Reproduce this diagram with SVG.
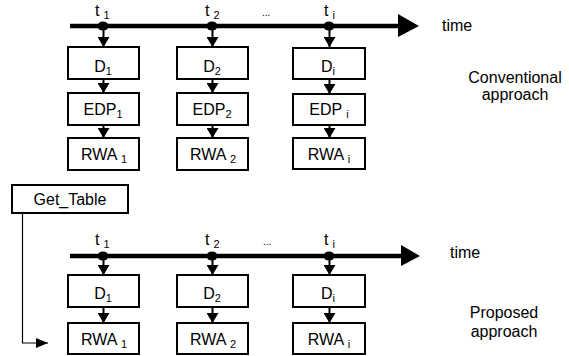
<svg xmlns="http://www.w3.org/2000/svg" width="569" height="356" viewBox="0 0 569 356">
<defs>
<marker id="ah" viewBox="0 0 10 12" refX="10" refY="6" markerWidth="10" markerHeight="12" markerUnits="userSpaceOnUse" orient="auto"><path d="M0,0 L10,6 L0,12 Z" fill="#000"/></marker>
<marker id="ahs" viewBox="0 0 12 10" refX="12" refY="5" markerWidth="12" markerHeight="10" markerUnits="userSpaceOnUse" orient="auto"><path d="M0,0 L12,5 L0,10 Z" fill="#000"/></marker>
</defs>
<style>
text{font-family:"Liberation Sans",Arial,sans-serif;font-size:16px;fill:#000}
.box{fill:#fff;stroke:#000;stroke-width:2}
.c{text-anchor:middle}
.sub{font-size:11px}
.axis{stroke:#000;stroke-width:4.5;fill:none}
.v{stroke:#000;stroke-width:2;fill:none;marker-end:url(#ah)}
.thin{stroke:#000;stroke-width:1.2;fill:none;marker-end:url(#ahs)}
</style>
<rect width="569" height="356" fill="#fff"/>
<g id="connectors">
<line class="axis" x1="70" y1="26" x2="400" y2="26"/>
<polygon points="398,14 419,26 398,37" fill="#000"/>
<line class="axis" x1="70" y1="256" x2="404" y2="256"/>
<polygon points="401,245 420,256 401,266" fill="#000"/>
<ellipse cx="103" cy="26" rx="5.5" ry="4.5"/>
<ellipse cx="212" cy="26" rx="5.5" ry="4.5"/>
<ellipse cx="329" cy="26" rx="5.5" ry="4.5"/>
<ellipse cx="103" cy="256" rx="5.5" ry="4.5"/>
<ellipse cx="212" cy="256" rx="5.5" ry="4.5"/>
<ellipse cx="329" cy="256" rx="5.5" ry="4.5"/>
<line class="v" x1="103.5" y1="28" x2="103.5" y2="47"/>
<line class="v" x1="212.5" y1="28" x2="212.5" y2="47"/>
<line class="v" x1="329.5" y1="28" x2="329.5" y2="47"/>
<line class="v" x1="103.5" y1="79" x2="103.5" y2="93"/>
<line class="v" x1="212.5" y1="79" x2="212.5" y2="93"/>
<line class="v" x1="329.5" y1="79" x2="329.5" y2="94"/>
<line class="v" x1="103.5" y1="125" x2="103.5" y2="138"/>
<line class="v" x1="212.5" y1="125" x2="212.5" y2="138"/>
<line class="v" x1="329.5" y1="125" x2="329.5" y2="138"/>
<line class="v" x1="103.5" y1="258" x2="103.5" y2="275"/>
<line class="v" x1="212.5" y1="258" x2="212.5" y2="275"/>
<line class="v" x1="329.5" y1="258" x2="329.5" y2="275"/>
<line class="v" x1="103.5" y1="307" x2="103.5" y2="323"/>
<line class="v" x1="212.5" y1="307" x2="212.5" y2="323"/>
<line class="v" x1="329.5" y1="307" x2="329.5" y2="323"/>
<polyline class="thin" points="22.5,213 22.5,343 48,343"/>
</g>
<g id="axis-labels">
<text x="95" y="16">t<tspan class="sub" dx="4" dy="3">1</tspan></text>
<text x="205" y="16">t<tspan class="sub" dx="4" dy="3">2</tspan></text>
<text x="262" y="16" style="font-size:10px">...</text>
<text x="324" y="16">t<tspan class="sub" dx="4" dy="3">i</tspan></text>
<text x="442" y="31">time</text>
<text x="95" y="245">t<tspan class="sub" dx="4" dy="3">1</tspan></text>
<text x="205" y="245">t<tspan class="sub" dx="4" dy="3">2</tspan></text>
<text x="263" y="245" style="font-size:10px">...</text>
<text x="324" y="245">t<tspan class="sub" dx="4" dy="3">i</tspan></text>
<text x="450" y="258">time</text>
<text class="c" x="515" y="83">Conventional</text>
<text class="c" x="515" y="100">approach</text>
<text class="c" x="504" y="318">Proposed</text>
<text class="c" x="504" y="337">approach</text>
</g>
<g id="D1"><rect class="box" x="68" y="47" width="71" height="32"/><text class="c" x="103" y="72">D<tspan class="sub" dy="3">1</tspan></text></g>
<g id="D2"><rect class="box" x="177" y="47" width="71" height="32"/><text class="c" x="212" y="72">D<tspan class="sub" dy="3">2</tspan></text></g>
<g id="Di"><rect class="box" x="293" y="48" width="72" height="31"/><text class="c" x="328" y="72">D<tspan class="sub" dy="3">i</tspan></text></g>
<g id="EDP1"><rect class="box" x="68" y="93" width="71" height="32"/><text class="c" x="103" y="115">EDP<tspan class="sub" dy="3">1</tspan></text></g>
<g id="EDP2"><rect class="box" x="177" y="93" width="71" height="32"/><text class="c" x="212" y="115">EDP<tspan class="sub" dy="3">2</tspan></text></g>
<g id="EDPi"><rect class="box" x="293" y="94" width="72" height="31"/><text class="c" x="329" y="115">EDP <tspan class="sub" dy="3">i</tspan></text></g>
<g id="RWA1"><rect class="box" x="68" y="138" width="71" height="32"/><text class="c" x="104" y="160">RWA <tspan class="sub" dy="3">1</tspan></text></g>
<g id="RWA2"><rect class="box" x="177" y="138" width="71" height="32"/><text class="c" x="213" y="160">RWA <tspan class="sub" dy="3">2</tspan></text></g>
<g id="RWAi"><rect class="box" x="293" y="138" width="72" height="31"/><text class="c" x="329" y="160">RWA <tspan class="sub" dy="3">i</tspan></text></g>
<g id="GetTable"><rect class="box" x="12" y="185" width="116" height="28"/><text class="c" x="70" y="205">Get_Table</text></g>
<g id="D1b"><rect class="box" x="68" y="275" width="71" height="32"/><text class="c" x="103" y="299">D<tspan class="sub" dy="3">1</tspan></text></g>
<g id="D2b"><rect class="box" x="177" y="275" width="71" height="32"/><text class="c" x="212" y="299">D<tspan class="sub" dy="3">2</tspan></text></g>
<g id="Dib"><rect class="box" x="293" y="275" width="72" height="32"/><text class="c" x="328" y="299">D<tspan class="sub" dy="3">i</tspan></text></g>
<g id="RWA1b"><rect class="box" x="68" y="323" width="71" height="31"/><text class="c" x="104" y="345">RWA <tspan class="sub" dy="3">1</tspan></text></g>
<g id="RWA2b"><rect class="box" x="177" y="323" width="71" height="31"/><text class="c" x="213" y="345">RWA <tspan class="sub" dy="3">2</tspan></text></g>
<g id="RWAib"><rect class="box" x="293" y="323" width="72" height="31"/><text class="c" x="329" y="345">RWA <tspan class="sub" dy="3">i</tspan></text></g>
</svg>
